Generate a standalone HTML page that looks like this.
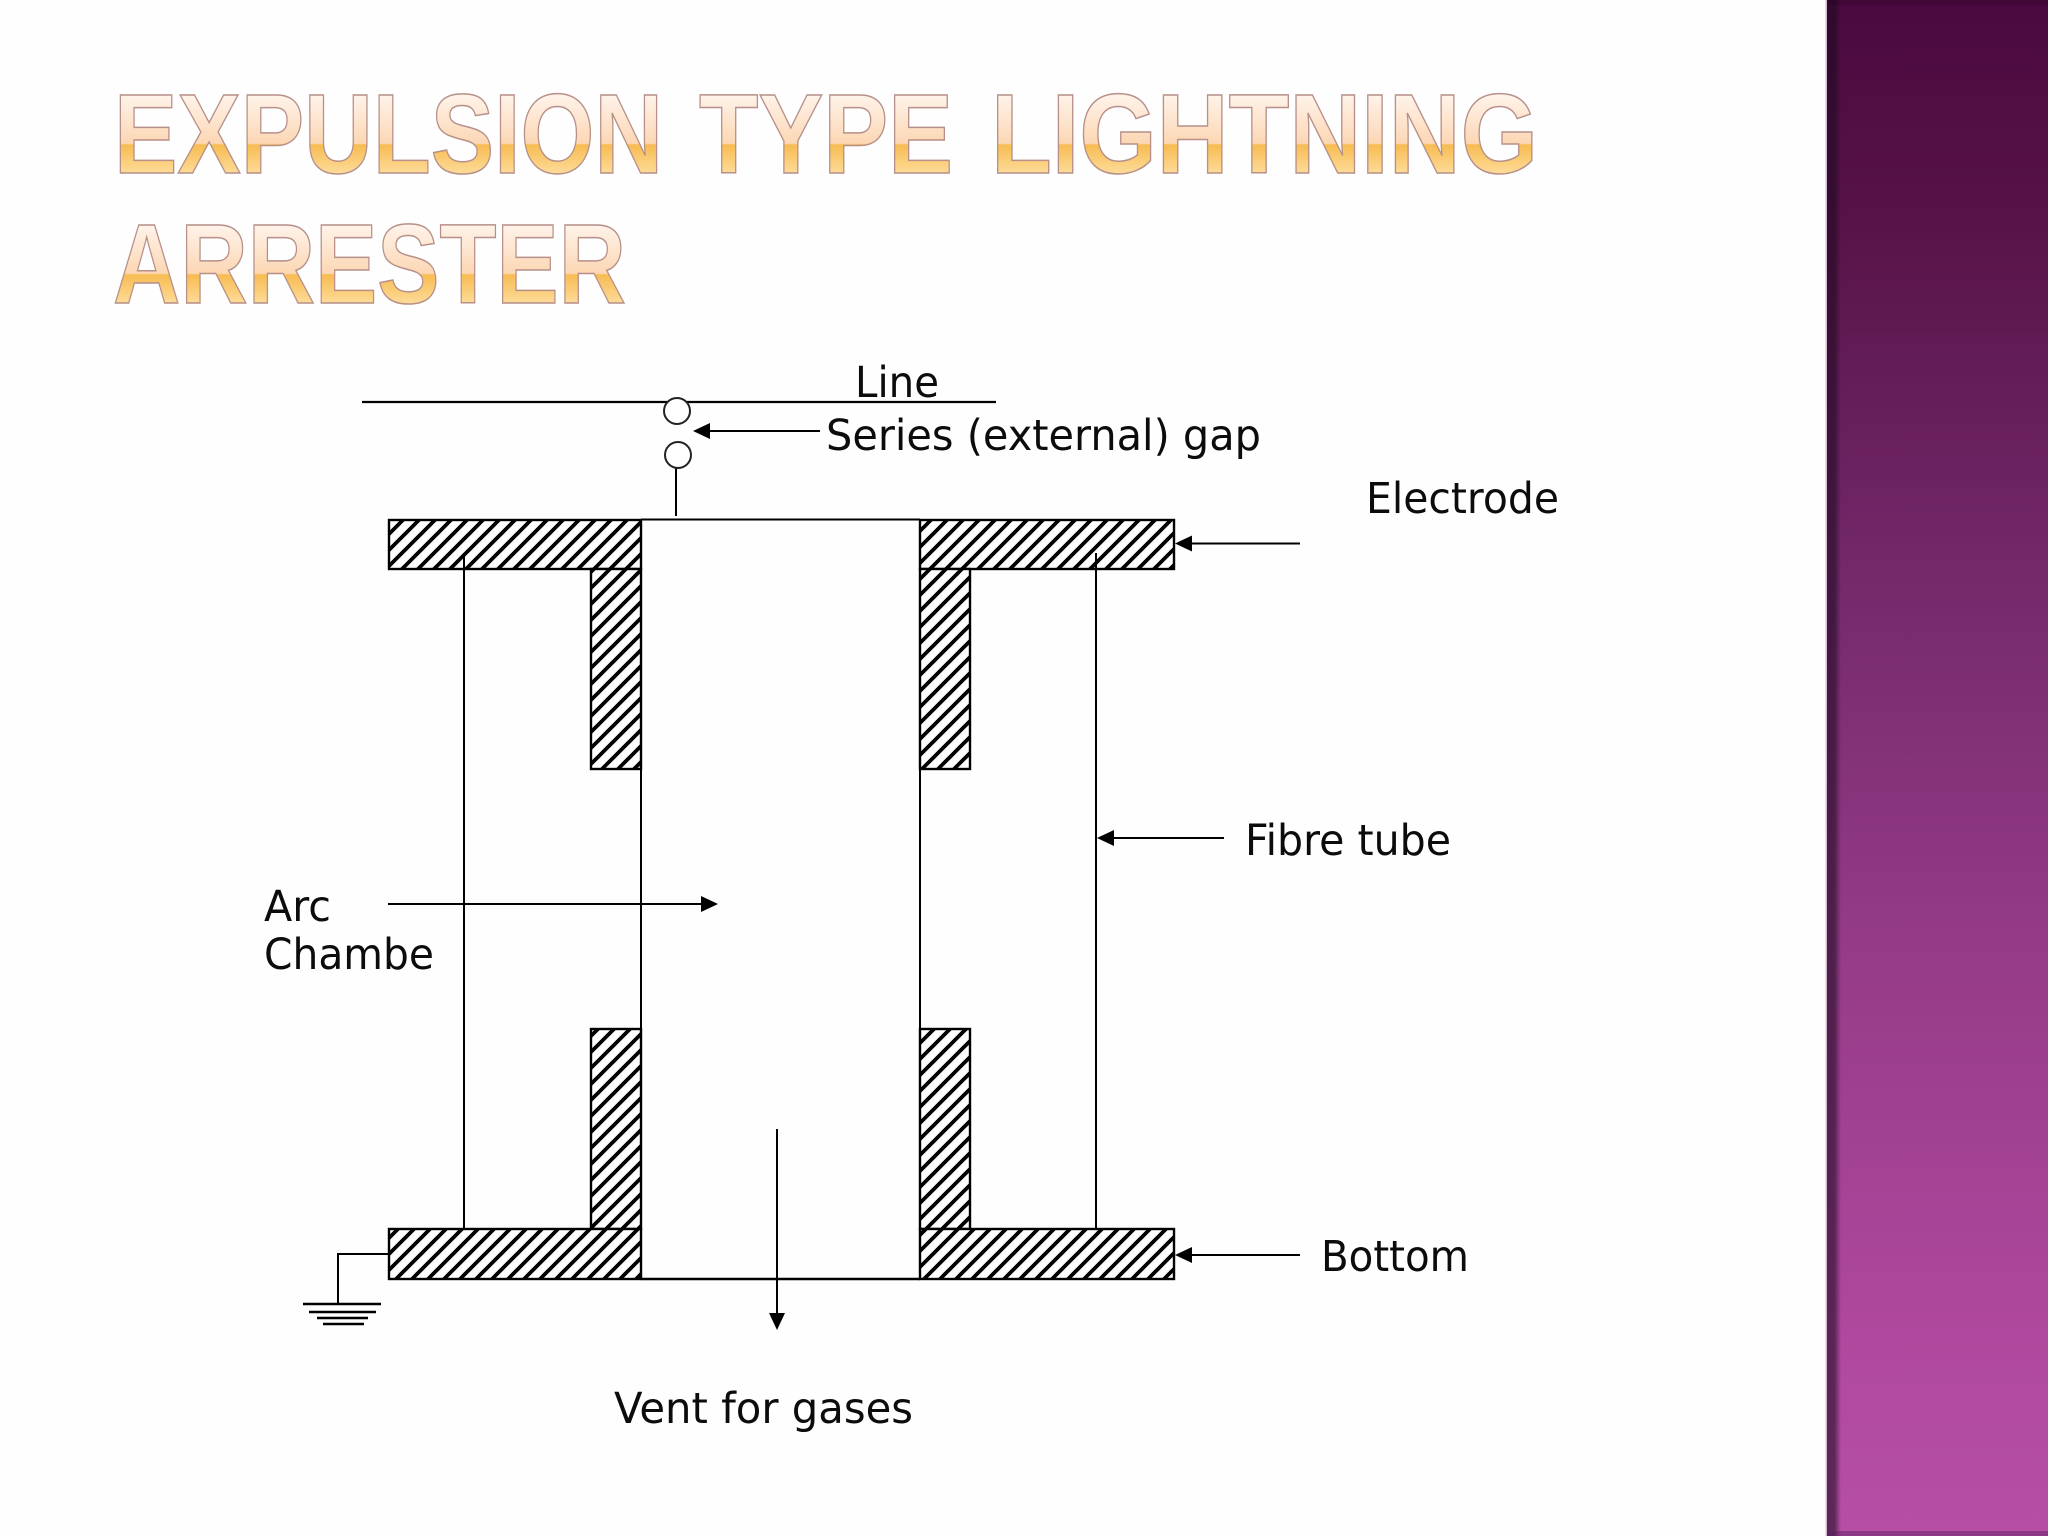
<!DOCTYPE html>
<html lang="en">
<head>
<meta charset="utf-8">
<title>Expulsion Type Lightning Arrester</title>
<style>
html,body{margin:0;padding:0;background:#fff;width:2048px;height:1536px;overflow:hidden}
svg{display:block;position:absolute;left:0;top:0}
.t{font-family:"Liberation Sans",sans-serif;font-weight:bold;font-size:113px;stroke:#b79089;stroke-width:1.5}
.l{font-family:"DejaVu Sans","Liberation Sans",sans-serif;font-size:43px;fill:#0c0c0c}
</style>
</head>
<body>
<svg width="2048" height="1536" viewBox="0 0 2048 1536" xmlns="http://www.w3.org/2000/svg">
<defs>
<linearGradient id="g1" gradientUnits="userSpaceOnUse" x1="0" y1="95" x2="0" y2="173">
<stop offset="0" stop-color="#fff3ea"/><stop offset=".62" stop-color="#fcd7b4"/><stop offset=".64" stop-color="#f7bc52"/><stop offset="1" stop-color="#fddb98"/>
</linearGradient>
<linearGradient id="g2" gradientUnits="userSpaceOnUse" x1="0" y1="225" x2="0" y2="303">
<stop offset="0" stop-color="#fff3ea"/><stop offset=".62" stop-color="#fcd7b4"/><stop offset=".64" stop-color="#f7bc52"/><stop offset="1" stop-color="#fddb98"/>
</linearGradient>
<linearGradient id="side" x1="0" y1="0" x2="0" y2="1">
<stop offset="0" stop-color="#4a0a40"/>
<stop offset=".13" stop-color="#561246"/>
<stop offset=".4" stop-color="#772b6e"/>
<stop offset=".6" stop-color="#933a85"/>
<stop offset=".87" stop-color="#af489e"/>
<stop offset="1" stop-color="#b64ea6"/>
</linearGradient>
<linearGradient id="edge" x1="0" y1="0" x2="1" y2="0">
<stop offset="0" stop-color="#1a0a20" stop-opacity=".6"/>
<stop offset=".55" stop-color="#1a0a20" stop-opacity=".55"/>
<stop offset="1" stop-color="#1a0a20" stop-opacity="0"/>
</linearGradient>
<pattern id="h" patternUnits="userSpaceOnUse" width="16" height="16" x="388" y="519">
<rect width="16" height="16" fill="#fff"/>
<path d="M-4 4 L4 -4 M-4 20 L20 -4 M12 20 L20 12" stroke="#000" stroke-width="3.8"/>
</pattern>
</defs>

<rect width="2048" height="1536" fill="#fefefe"/>

<!-- sidebar -->
<rect x="1825.5" y="0" width="222.5" height="1536" fill="url(#side)"/>
<rect x="1825.5" y="0" width="1.5" height="1536" fill="#d9b8d4"/>
<rect x="1827" y="0" width="14" height="1536" fill="url(#edge)"/>
<rect x="1827" y="0" width="221" height="5" fill="#2a0426" opacity=".3"/>
<rect x="1827" y="1531" width="221" height="5" fill="#5a2060" opacity=".45"/>

<!-- title -->
<text class="t" x="114" y="173" fill="url(#g1)" textLength="549" lengthAdjust="spacingAndGlyphs">EXPULSION</text>
<text class="t" x="699" y="173" fill="url(#g1)" textLength="254" lengthAdjust="spacingAndGlyphs">TYPE</text>
<text class="t" x="991" y="173" fill="url(#g1)" textLength="547" lengthAdjust="spacingAndGlyphs">LIGHTNING</text>
<text class="t" x="113" y="303" fill="url(#g2)" textLength="513" lengthAdjust="spacingAndGlyphs">ARRESTER</text>

<!-- hatched blocks -->
<g fill="url(#h)" stroke="#000" stroke-width="2.4">
<rect x="389" y="520" width="252" height="49"/>
<rect x="920" y="520" width="254" height="49"/>
<rect x="591" y="569" width="50" height="200"/>
<rect x="920" y="569" width="50" height="200"/>
<rect x="591" y="1029" width="50" height="200"/>
<rect x="920" y="1029" width="50" height="200"/>
<rect x="389" y="1229" width="252" height="50"/>
<rect x="920" y="1229" width="254" height="50"/>
</g>

<!-- lines -->
<g stroke="#000" stroke-width="2" fill="none">
<path d="M362 402 H996" stroke-width="2.2"/>
<path d="M641 519.5 H920"/>
<path d="M641 1279 H920" stroke-width="2.6"/>
<path d="M641 769 V1029 M920 769 V1029"/>
<path d="M464 553 V1229 M1096 553 V1229"/>
<path d="M676 467 V516"/>
<path d="M389 1254 H338 V1304"/>
<path d="M303 1304 H381 M309 1312 H376 M317 1318 H368 M323 1324 H364" stroke-width="2.4"/>
<path d="M710 431 H820"/>
<path d="M1190 543.5 H1300"/>
<path d="M1112 838 H1224"/>
<path d="M388 904 H702"/>
<path d="M1190 1255 H1300"/>
<path d="M777 1129 V1314"/>
</g>
<circle cx="677" cy="411" r="13" fill="#fff" stroke="#222" stroke-width="2"/>
<circle cx="678" cy="455" r="13" fill="#fff" stroke="#222" stroke-width="2"/>

<!-- arrowheads -->
<g fill="#000">
<path d="M693 431 L710 423 V439 Z"/>
<path d="M1175 543.5 L1192 535.5 V551.5 Z"/>
<path d="M1097 838 L1114 830 V846 Z"/>
<path d="M718 904 L701 896 V912 Z"/>
<path d="M1175 1255 L1192 1247 V1263 Z"/>
<path d="M777 1330 L769 1313 H785 Z"/>
</g>

<!-- labels -->
<text class="l" x="855" y="397" textLength="84" lengthAdjust="spacingAndGlyphs">Line</text>
<text class="l" x="826" y="450" textLength="435" lengthAdjust="spacingAndGlyphs">Series (external) gap</text>
<text class="l" x="1366" y="513" textLength="193" lengthAdjust="spacingAndGlyphs">Electrode</text>
<text class="l" x="1245" y="855" textLength="206" lengthAdjust="spacingAndGlyphs">Fibre tube</text>
<text class="l" x="264" y="921" textLength="67" lengthAdjust="spacingAndGlyphs">Arc</text>
<text class="l" x="264" y="969" textLength="170" lengthAdjust="spacingAndGlyphs">Chambe</text>
<text class="l" x="1321" y="1271" textLength="148" lengthAdjust="spacingAndGlyphs">Bottom</text>
<text class="l" x="614" y="1423" textLength="299" lengthAdjust="spacingAndGlyphs">Vent for gases</text>
</svg>
</body>
</html>
